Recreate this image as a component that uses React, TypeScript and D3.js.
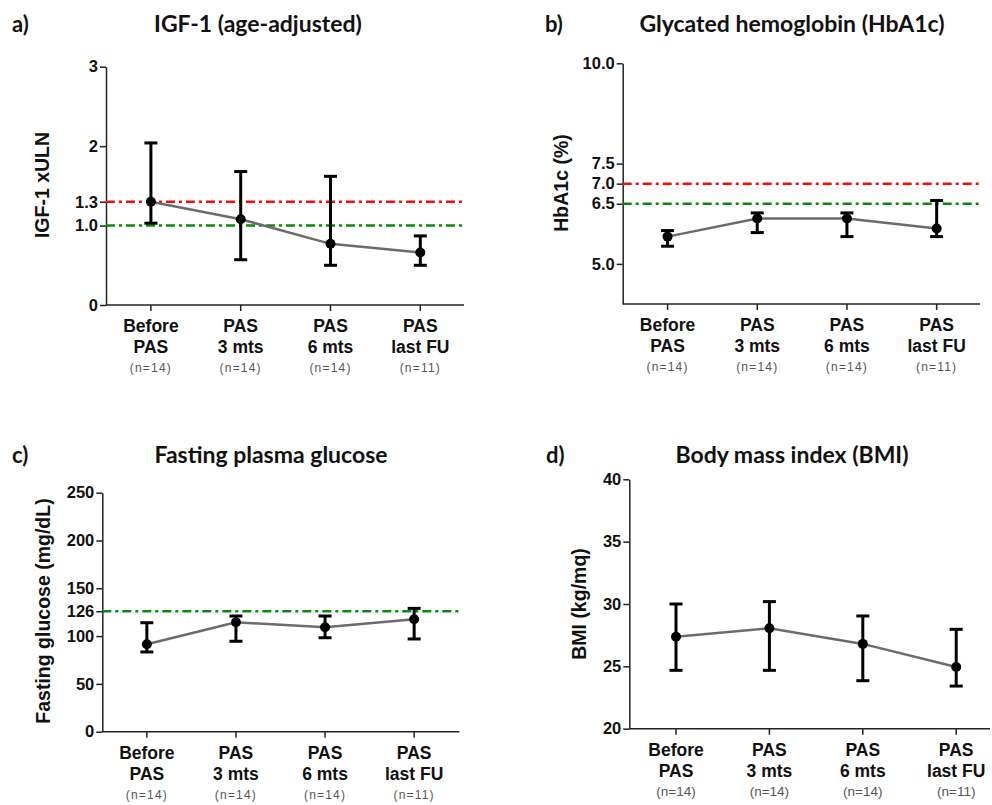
import React, { useRef, useEffect } from "react";
import * as d3 from "d3";

// Category labels (shared by all four panels)
const categoryTop = ["Before", "PAS", "PAS", "PAS"];
const categoryBottom = ["PAS", "3 mts", "6 mts", "last FU"];
const groupSizes = ["(n=14)", "(n=14)", "(n=14)", "(n=11)"];

// a) IGF-1 xULN
const igfMean = [1.3, 1.08, 0.77, 0.66];
const igfHigh = [2.04, 1.68, 1.62, 0.87];
const igfLow = [1.03, 0.57, 0.5, 0.5];
const igfTicks = [0, 1.0, 1.3, 2, 3];
const igfTickLabels = ["0", "1.0", "1.3", "2", "3"];

// b) HbA1c (%)
const hbaMean = [5.68, 6.13, 6.13, 5.88];
const hbaHigh = [5.83, 6.27, 6.27, 6.58];
const hbaLow = [5.44, 5.78, 5.68, 5.68];
const hbaTicks = [5.0, 6.5, 7.0, 7.5, 10.0];
const hbaTickLabels = ["5.0", "6.5", "7.0", "7.5", "10.0"];

// c) Fasting glucose (mg/dL)
const fpgMean = [91.4, 114.4, 109.2, 117.6];
const fpgHigh = [114, 121, 121, 129];
const fpgLow = [83.4, 94.6, 98.3, 97];
const fpgTicks = [0, 50, 100, 126, 150, 200, 250];
const fpgTickLabels = ["0", "50", "100", "126", "150", "200", "250"];

// d) BMI (kg/mq)
const bmiMean = [27.38, 28.05, 26.8, 24.95];
const bmiHigh = [30.0, 30.19, 29.04, 27.97];
const bmiLow = [24.68, 24.68, 23.85, 23.42];
const bmiTicks = [20, 25, 30, 35, 40];
const bmiTickLabels = ["20", "25", "30", "35", "40"];

const RED = "#ff0a0a";
const GREEN = "#078c07";

const panels = [
  {
    letter: "a)", title: "IGF-1 (age-adjusted)", yLabel: "IGF-1 xULN",
    mean: igfMean, high: igfHigh, low: igfLow, domain: [0, 3],
    ticks: igfTicks, tickLabels: igfTickLabels,
    refs: [{ v: 1.3, c: RED }, { v: 1.0, c: GREEN }],
    x0: 106, x1: 464, step: 89.8, yTop: 66.7, yBottom: 305,
    letterX: 12, titleX: 258, titleY: 32, yLabX: 42, yLabY: 185,
    nSize: 12, nSpacing: 1.2,
  },
  {
    letter: "b)", title: "Glycated hemoglobin (HbA1c)", yLabel: "HbA1c (%)",
    mean: hbaMean, high: hbaHigh, low: hbaLow, domain: [4, 10],
    ticks: hbaTicks, tickLabels: hbaTickLabels,
    refs: [{ v: 7.0, c: RED }, { v: 6.5, c: GREEN }],
    x0: 622.7, x1: 980, step: 89.7, yTop: 63.3, yBottom: 304,
    letterX: 545, titleX: 792, titleY: 32, yLabX: 561, yLabY: 183,
    nSize: 12, nSpacing: 1.2,
  },
  {
    letter: "c)", title: "Fasting plasma glucose", yLabel: "Fasting glucose (mg/dL)",
    mean: fpgMean, high: fpgHigh, low: fpgLow, domain: [0, 250],
    ticks: fpgTicks, tickLabels: fpgTickLabels,
    refs: [{ v: 126, c: GREEN }],
    x0: 102.3, x1: 459.3, step: 89.1, yTop: 492.7, yBottom: 731.7,
    letterX: 12, titleX: 271, titleY: 463, yLabX: 43, yLabY: 611,
    nSize: 12, nSpacing: 1.2,
  },
  {
    letter: "d)", title: "Body mass index (BMI)", yLabel: "BMI (kg/mq)",
    mean: bmiMean, high: bmiHigh, low: bmiLow, domain: [20, 40],
    ticks: bmiTicks, tickLabels: bmiTickLabels,
    refs: [],
    x0: 629.3, x1: 990, step: 93.4, yTop: 479.3, yBottom: 728.7,
    letterX: 546, titleX: 792, titleY: 463, yLabX: 579, yLabY: 604,
    nSize: 13.5, nSpacing: 0,
  },
];

const ARIAL = "'Liberation Sans', Arial, sans-serif";
const TITLE_FONT = "Lato, 'Open Sans', sans-serif";

export default function App() {
  const svgRef = useRef<SVGSVGElement>(null);

  useEffect(() => {
    const svg = d3.select(svgRef.current);
    svg.selectAll("*").remove();

    panels.forEach((p) => {
      const g = svg.append("g");
      const idx = d3.range(p.mean.length);

      const x = d3
        .scalePoint<number>()
        .domain(idx)
        .range([p.x0, p.x0 + p.step * idx.length])
        .padding(0.5);

      const y = d3.scaleLinear().domain(p.domain).range([p.yBottom, p.yTop]);

      // Titles
      g.append("text")
        .attr("x", p.letterX)
        .attr("y", p.titleY)
        .attr("font-family", TITLE_FONT)
        .attr("font-weight", 700)
        .attr("font-size", 22)
        .attr("fill", "#111")
        .text(p.letter);

      g.append("text")
        .attr("x", p.titleX)
        .attr("y", p.titleY)
        .attr("text-anchor", "middle")
        .attr("font-family", TITLE_FONT)
        .attr("font-weight", 700)
        .attr("font-size", 23)
        .attr("fill", "#111")
        .text(p.title);

      // Y label
      g.append("text")
        .attr("transform", `translate(${p.yLabX},${p.yLabY}) rotate(-90)`)
        .attr("text-anchor", "middle")
        .attr("dy", "0.35em")
        .attr("font-family", ARIAL)
        .attr("font-weight", 700)
        .attr("font-size", 19.5)
        .attr("fill", "#111")
        .text(p.yLabel);

      // Y axis
      const yAxis = g
        .append("g")
        .attr("transform", `translate(${p.x0},0)`)
        .call(
          d3
            .axisLeft(y)
            .tickValues(p.ticks)
            .tickFormat((_, i) => p.tickLabels[i])
            .tickSize(6)
            .tickPadding(2)
            .tickSizeOuter(0)
        );
      yAxis.select(".domain").attr("stroke", "#222").attr("stroke-width", 1.5);
      yAxis.selectAll(".tick line").attr("stroke", "#222").attr("stroke-width", 1.5);
      yAxis
        .selectAll(".tick text")
        .attr("font-family", ARIAL)
        .attr("font-weight", 700)
        .attr("font-size", 16.5)
        .attr("fill", "#111");

      // X axis
      g.append("line")
        .attr("x1", p.x0)
        .attr("x2", p.x1)
        .attr("y1", p.yBottom)
        .attr("y2", p.yBottom)
        .attr("stroke", "#222")
        .attr("stroke-width", 1.5);

      const xt = g
        .selectAll("g.xtick")
        .data(idx)
        .join("g")
        .attr("class", "xtick")
        .attr("transform", (d) => `translate(${x(d)},${p.yBottom})`);
      xt.append("line").attr("y2", 6).attr("stroke", "#222").attr("stroke-width", 1.5);
      xt.append("text")
        .attr("y", 27)
        .attr("text-anchor", "middle")
        .attr("font-family", ARIAL)
        .attr("font-weight", 700)
        .attr("font-size", 17.5)
        .attr("fill", "#111")
        .text((d) => categoryTop[d]);
      xt.append("text")
        .attr("y", 48)
        .attr("text-anchor", "middle")
        .attr("font-family", ARIAL)
        .attr("font-weight", 700)
        .attr("font-size", 17.5)
        .attr("fill", "#111")
        .text((d) => categoryBottom[d]);
      xt.append("text")
        .attr("y", 67)
        .attr("text-anchor", "middle")
        .attr("font-family", ARIAL)
        .attr("font-size", p.nSize)
        .attr("letter-spacing", p.nSpacing)
        .attr("fill", "#555")
        .text((d) => groupSizes[d]);

      // Reference lines
      p.refs.forEach((r) => {
        g.append("line")
          .attr("x1", p.x0)
          .attr("x2", p.x1)
          .attr("y1", y(r.v))
          .attr("y2", y(r.v))
          .attr("stroke", r.c)
          .attr("stroke-width", 2.5)
          .attr("stroke-dasharray", "9,4,3,4");
      });

      // Connecting line
      const line = d3
        .line<number>()
        .x((d) => x(d) as number)
        .y((d) => y(p.mean[d]));
      g.append("path")
        .attr("d", line(idx))
        .attr("fill", "none")
        .attr("stroke", "#6b6b6b")
        .attr("stroke-width", 2.5);

      // Error bars
      const eb = g
        .selectAll("g.err")
        .data(idx)
        .join("g")
        .attr("class", "err")
        .attr("transform", (d) => `translate(${x(d)},0)`);
      eb.append("line")
        .attr("y1", (d) => y(p.low[d]))
        .attr("y2", (d) => y(p.high[d]))
        .attr("stroke", "#000")
        .attr("stroke-width", 3);
      eb.append("line")
        .attr("x1", -6.5)
        .attr("x2", 6.5)
        .attr("y1", (d) => y(p.high[d]))
        .attr("y2", (d) => y(p.high[d]))
        .attr("stroke", "#000")
        .attr("stroke-width", 3);
      eb.append("line")
        .attr("x1", -6.5)
        .attr("x2", 6.5)
        .attr("y1", (d) => y(p.low[d]))
        .attr("y2", (d) => y(p.low[d]))
        .attr("stroke", "#000")
        .attr("stroke-width", 3);
      eb.append("circle")
        .attr("cy", (d) => y(p.mean[d]))
        .attr("r", 5)
        .attr("fill", "#000");
    });
  }, []);

  return (
    <svg
      ref={svgRef}
      width={992}
      height={805}
      style={{ position: "absolute", left: 0, top: 0, background: "#fff" }}
    />
  );
}
